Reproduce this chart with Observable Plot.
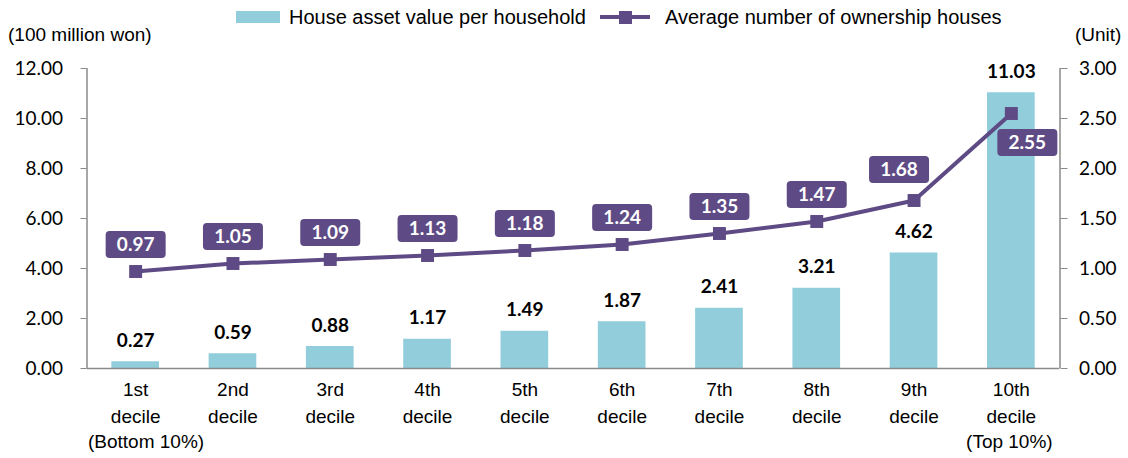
<!DOCTYPE html>
<html><head><meta charset="utf-8">
<script src="https://cdn.jsdelivr.net/npm/d3@7"></script>
<script src="https://cdn.jsdelivr.net/npm/@observablehq/plot@0.6"></script>
<style>
body{margin:0;background:#fff;}
#wrap{position:relative;width:1128px;height:458px;overflow:hidden;}
#head{position:relative;width:1128px;height:44px;font-family:"Liberation Sans",Arial,sans-serif;color:#000;}
#head span{position:absolute;white-space:nowrap;line-height:22px;}
.sw{position:absolute;}
</style></head><body>
<div id="wrap">
  <div id="head">
    <span style="left:8px;top:24px;font-size:19px;">(100 million won)</span>
    <div class="sw" style="left:236px;top:11px;width:44px;height:12px;background:#92CDDC;"></div>
    <span style="left:289px;top:6px;font-size:20px;">House asset value per household</span>
    <div class="sw" style="left:600px;top:15px;width:50px;height:4px;background:#5E4A84;"></div>
    <div class="sw" style="left:619px;top:11px;width:13px;height:13px;background:#5E4A84;"></div>
    <span style="left:665px;top:6px;font-size:20px;">Average number of ownership houses</span>
    <span style="left:1075px;top:24px;font-size:19px;">(Unit)</span>
  </div>
  <div id="chart"></div>
</div>
<script>
const categories = ["1st\ndecile","2nd\ndecile","3rd\ndecile","4th\ndecile","5th\ndecile","6th\ndecile","7th\ndecile","8th\ndecile","9th\ndecile","10th\ndecile"];
const assetValue = [0.27, 0.59, 0.88, 1.17, 1.49, 1.87, 2.41, 3.21, 4.62, 11.03];
const ownershipHouses = [0.97, 1.05, 1.09, 1.13, 1.18, 1.24, 1.35, 1.47, 1.68, 2.55];
const leftTicks = [0, 2, 4, 6, 8, 10, 12];
const rightTicks = [0, 0.5, 1, 1.5, 2, 2.5, 3];
const extremeLabels = ["(Bottom 10%)", "(Top 10%)"];

const ratio = 4; // right axis (0–3) onto left axis (0–12)
const blue = "#92CDDC", purple = "#5E4A84", gray = "#8A8A8A";
const numFont = "Lato, 'Open Sans', sans-serif";
const txtFont = "'Liberation Sans', Arial, sans-serif";

const data = categories.map((c, i) => ({i, c, asset: assetValue[i], houses: ownershipHouses[i]}));

const boxSymbol = {
  draw(ctx) {
    const w = 60, h = 27, r = 4, x0 = -w / 2, y0 = -h / 2;
    ctx.moveTo(x0 + r, y0);
    ctx.lineTo(x0 + w - r, y0);
    ctx.arcTo(x0 + w, y0, x0 + w, y0 + r, r);
    ctx.lineTo(x0 + w, y0 + h - r);
    ctx.arcTo(x0 + w, y0 + h, x0 + w - r, y0 + h, r);
    ctx.lineTo(x0 + r, y0 + h);
    ctx.arcTo(x0, y0 + h, x0, y0 + h - r, r);
    ctx.lineTo(x0, y0 + r);
    ctx.arcTo(x0, y0, x0 + r, y0, r);
    ctx.closePath();
  }
};

const labelGroups = [
  {filter: d => d.i < 8, dx: 0, dy: -27},
  {filter: d => d.i === 8, dx: -15, dy: -31},
  {filter: d => d.i === 9, dx: 16, dy: 29}
];

const chart = Plot.plot({
  width: 1128,
  height: 414,
  marginLeft: 86.5,
  marginRight: 68.5,
  marginTop: 24,
  marginBottom: 90,
  x: {type: "linear", domain: [-0.5, 9.5]},
  y: {domain: [0, 12]},
  marks: [
    Plot.rect(data, {x1: d => d.i - 0.245, x2: d => d.i + 0.245, y1: 0, y2: "asset", fill: blue}),
    Plot.ruleY([0], {stroke: gray, strokeWidth: 1.5}),
    Plot.ruleX([-0.5, 9.5], {stroke: gray, strokeWidth: 1.5}),
    Plot.axisY({anchor: "left", label: null, ticks: leftTicks, tickFormat: d => d.toFixed(2), tickSize: 6, tickPadding: 18, stroke: gray, fontSize: 19, fontFamily: numFont, fill: "#000"}),
    Plot.axisY({anchor: "right", label: null, ticks: rightTicks.map(t => t * ratio), tickFormat: d => (d / ratio).toFixed(2), tickSize: 7, tickPadding: 12, stroke: gray, fontSize: 19, fontFamily: numFont, fill: "#000"}),
    Plot.axisX({label: null, ticks: d3.range(categories.length), tickFormat: i => categories[i], tickSize: 0, tickPadding: 9, fontSize: 19, lineHeight: 1.4, fontFamily: txtFont, fill: "#000"}),
    Plot.text([extremeLabels[0]], {x: -0.5, frameAnchor: "bottom", textAnchor: "start", lineAnchor: "top", dx: 1, dy: 66, fontSize: 19, fontFamily: txtFont, fill: "#000"}),
    Plot.text([extremeLabels[1]], {x: 9, frameAnchor: "bottom", textAnchor: "middle", lineAnchor: "top", dx: -2, dy: 66, fontSize: 19, fontFamily: txtFont, fill: "#000"}),
    Plot.text(data, {x: "i", y: "asset", text: d => d.asset.toFixed(2), dy: -21, fontSize: 19, fontWeight: 700, fontFamily: numFont, fill: "#000"}),
    Plot.line(data, {x: "i", y: d => d.houses * ratio, stroke: purple, strokeWidth: 4}),
    Plot.dot(data, {x: "i", y: d => d.houses * ratio, symbol: "square", r: 7.3, fill: purple, stroke: null}),
    ...labelGroups.flatMap(g => [
      Plot.dot(data, {filter: g.filter, x: "i", y: d => d.houses * ratio, symbol: boxSymbol, fill: purple, stroke: null, dx: g.dx, dy: g.dy}),
      Plot.text(data, {filter: g.filter, x: "i", y: d => d.houses * ratio, text: d => d.houses.toFixed(2), dx: g.dx, dy: g.dy, fill: "#fff", fontSize: 19, fontWeight: 700, fontFamily: numFont})
    ])
  ]
});
document.getElementById("chart").appendChild(chart);
</script>
</body></html>
